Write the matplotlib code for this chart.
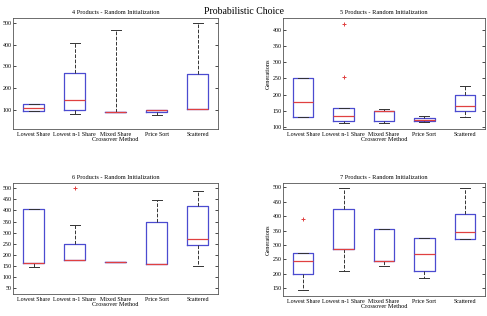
import matplotlib.pyplot as plt

# x categories (crossover methods)
methods = ['Lowest Share', 'Lowest n-1 Share', 'Mixed Share', 'Price Sort', 'Scattered']

# box stats per subplot: whislo, q1, med, q3, whishi
p4_whislo = [95, 83, 88, 77, 105]
p4_q1 = [95, 100, 88, 90, 105]
p4_med = [110, 145, 88, 100, 105]
p4_q3 = [128, 270, 88, 100, 265]
p4_whishi = [128, 410, 468, 100, 500]
p4_fliers = [[], [], [], [], []]

p5_whislo = [130, 112, 112, 115, 130]
p5_q1 = [130, 120, 120, 118, 150]
p5_med = [178, 135, 150, 123, 165]
p5_q3 = [250, 160, 150, 127, 200]
p5_whishi = [250, 160, 157, 133, 228]
p5_fliers = [[], [255, 420], [], [], []]

p6_whislo = [145, 175, 167, 157, 150]
p6_q1 = [162, 175, 167, 157, 245]
p6_med = [162, 175, 167, 157, 272]
p6_q3 = [405, 250, 167, 347, 420]
p6_whishi = [405, 335, 167, 445, 490]
p6_fliers = [[], [500], [], [], []]

p7_whislo = [145, 210, 228, 187, 320]
p7_q1 = [200, 285, 245, 210, 320]
p7_med = [245, 285, 245, 268, 345]
p7_q3 = [272, 425, 355, 325, 408]
p7_whishi = [272, 497, 355, 325, 497]
p7_fliers = [[390], [], [], [], []]

plt.rcParams['font.family'] = ['Liberation Serif', 'DejaVu Serif']

fig = plt.figure(figsize=(4.87, 3.16), dpi=100)
fig.text(0.5, 0.965, 'Probabilistic Choice', ha='center', va='center', fontsize=7)


def draw(rect, title, wl, q1, med, q3, wh, fl, ylim, yticks, ylabel):
    ax = fig.add_axes(rect)
    stats = []
    for i in range(len(methods)):
        stats.append(dict(whislo=wl[i], q1=q1[i], med=med[i], q3=q3[i],
                          whishi=wh[i], fliers=fl[i]))
    ax.bxp(stats, positions=range(1, 6), widths=0.5,
           boxprops=dict(color='#4b4bd0', lw=0.9),
           medianprops=dict(color='#e04040', lw=0.9),
           whiskerprops=dict(color='#333333', lw=0.7, ls='--'),
           capprops=dict(color='#333333', lw=0.7),
           flierprops=dict(marker='+', markeredgecolor='#e04040', markersize=3,
                           markeredgewidth=0.7))
    ax.set_xlim(0.5, 5.5)
    ax.set_ylim(*ylim)
    ax.set_yticks(yticks)
    ax.set_xticks(range(1, 6))
    ax.set_xticklabels(methods)
    ax.tick_params(axis='x', length=0, labelsize=4.3, pad=2)
    ax.tick_params(axis='y', direction='in', right=True, length=2, labelsize=4.3,
                   width=0.5, pad=1)
    ax.set_title(title, fontsize=4.5, pad=3)
    ax.set_xlabel('Crossover Method', fontsize=4.5, labelpad=0)
    if ylabel:
        ax.set_ylabel('Generations', fontsize=4.5, labelpad=1)
    for s in ax.spines.values():
        s.set_linewidth(0.6)
        s.set_color('#555555')
    return ax


draw([0.027, 0.592, 0.421, 0.351], '4 Products - Random Initialization',
     p4_whislo, p4_q1, p4_med, p4_q3, p4_whishi, p4_fliers,
     (12, 523), range(100, 501, 100), False)
draw([0.581, 0.592, 0.415, 0.351], '5 Products - Random Initialization',
     p5_whislo, p5_q1, p5_med, p5_q3, p5_whishi, p5_fliers,
     (94, 437), range(100, 401, 50), True)
draw([0.027, 0.070, 0.421, 0.351], '6 Products - Random Initialization',
     p6_whislo, p6_q1, p6_med, p6_q3, p6_whishi, p6_fliers,
     (24, 524), range(50, 501, 50), False)
draw([0.581, 0.063, 0.415, 0.358], '7 Products - Random Initialization',
     p7_whislo, p7_q1, p7_med, p7_q3, p7_whishi, p7_fliers,
     (123, 515), range(150, 501, 50), True)

fig.savefig('out.png', dpi=100)
